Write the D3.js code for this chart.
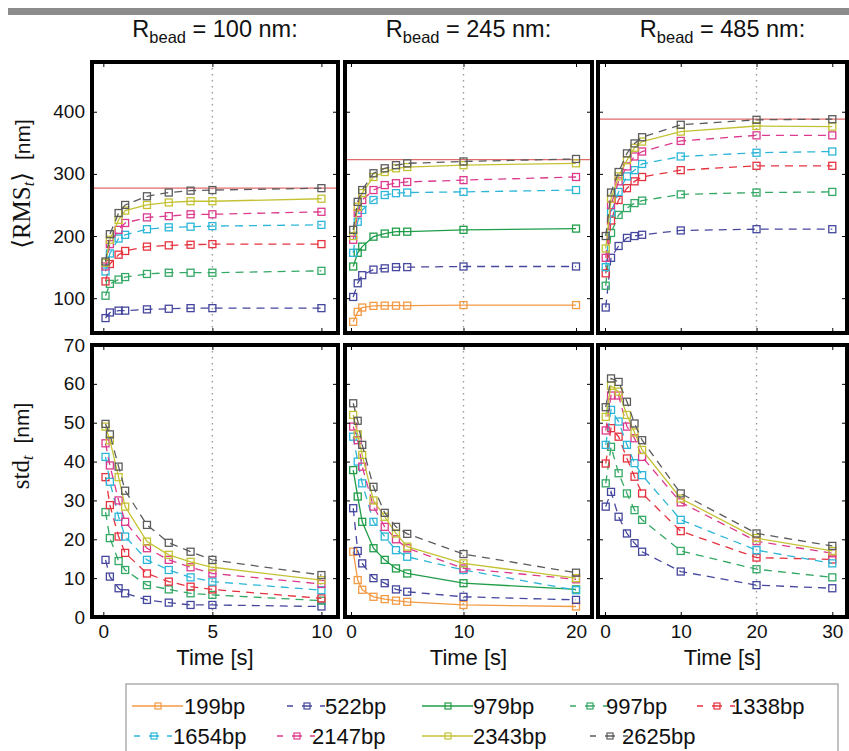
<!DOCTYPE html>
<html>
<head>
<meta charset="utf-8">
<script src="https://cdn.jsdelivr.net/npm/d3@7"></script>
<style>
  body { margin: 0; background: #fff; }
  svg { display: block; font-family: "Liberation Sans", Arial, Helvetica, sans-serif; }
</style>
</head>
<body>
<div id="chart"></div>
<script>
// ---- data ----
const labels = ["199bp", "522bp", "979bp", "997bp", "1338bp", "1654bp", "2147bp", "2343bp", "2625bp"];
const beadRadius = [100, 245, 485];

const times100 = [0.1, 0.3, 0.7, 1, 2, 3, 4, 5, 10];
const times245 = [0.2, 0.6, 1, 2, 3, 4, 5, 10, 20];
const times485 = [0.1, 0.8, 1.8, 2.9, 3.9, 4.9, 10, 20, 30];

// <RMS_t> [nm], one entry per label (null = not measured for that bead)
const rms100 = [
  null,
  [68, 77, 80, 80, 82, 83, 84, 84, 84],
  null,
  [104, 123, 130, 134, 139, 141, 141, 141, 144],
  [127, 155, 170, 176, 183, 185, 186, 187, 187],
  [143, 172, 196, 202, 211, 214, 215, 216, 218],
  [151, 187, 210, 221, 230, 232, 235, 235, 239],
  [157, 194, 226, 241, 250, 254, 256, 256, 260],
  [159, 203, 237, 250, 264, 270, 273, 274, 277]
];
const rms245 = [
  [62, 78, 85, 87.6, 88, 88, 88, 89, 89],
  [102, 124, 137, 146, 148, 150, 150, 151, 151],
  [151, 173, 183, 199, 204, 207, 207, 210, 212],
  null,
  null,
  [173, 223, 242, 258, 266, 269, 270, 271, 274],
  [194, 237, 258, 274, 282, 285, 287, 290, 295],
  [200, 247, 269, 295, 303, 309, 311, 314, 317],
  [210, 255, 274, 301, 309, 314, 317, 320, 324]
];
const rms485 = [
  null,
  [85, 165, 184, 197, 200, 202, 209, 211, 211],
  null,
  [120, 205, 234, 245, 253, 257, 267, 270, 271],
  [140, 225, 258, 277, 288, 295, 306, 313, 313],
  [150, 238, 271, 296, 306, 316, 328, 334, 336],
  [165, 250, 288, 312, 328, 336, 353, 362, 362],
  [180, 260, 296, 322, 342, 352, 368, 377, 376],
  [200, 270, 303, 333, 349, 359, 379, 387, 388]
];

// std_t [nm]
const std100 = [
  null,
  [14.7, 10.4, 7.4, 6.1, 4.4, 3.7, 3.1, 3.1, 2.7],
  null,
  [27, 20.3, 14.4, 12.1, 8.2, 7.1, 6.1, 5.7, 4.2],
  [36, 28.8, 20.7, 16.5, 11.2, 9.1, 7.8, 7.1, 4.8],
  [41.2, 34.8, 25.8, 20.7, 14.7, 12.1, 10.2, 9.1, 6.9],
  [44.7, 39, 30, 24.5, 17.7, 14.7, 12.8, 11.2, 8.5],
  [49, 45.5, 36, 28.4, 19.4, 16, 14.2, 12.8, 9.5],
  [49.7, 47, 38.7, 32.5, 23.7, 19.1, 16.8, 14.7, 10.8]
];
const std245 = [
  [16.8, 9.5, 7, 5.2, 4.6, 4.2, 3.9, 3.1, 2.7],
  [28, 17, 13.8, 10, 8.7, 7.1, 6.5, 5.2, 4.4],
  [37.8, 31, 24.5, 17.7, 14.7, 12.5, 11.2, 8.7, 7.1],
  null,
  null,
  [46.4, 40, 34.4, 24.5, 20.7, 17.2, 15.5, 12.1, 6.9],
  [49, 45.5, 38.7, 28.4, 23.2, 20, 17.7, 12.5, 9.7],
  [52, 47, 41.7, 30, 25.8, 21.5, 18.1, 13.8, 10],
  [55, 50.5, 44.3, 33.5, 26.8, 23.2, 21.4, 16.2, 11.4]
];
const std485 = [
  null,
  [28.4, 32.2, 25.8, 21.5, 19, 16.8, 11.7, 8.2, 7.4],
  null,
  [34.4, 43.8, 37, 31.8, 27.5, 25, 17, 12.3, 10.2],
  [39.5, 48.6, 46.4, 40.8, 36.1, 31.8, 22.1, 15.3, 14.8],
  [44.3, 53.3, 50.3, 44.3, 39.6, 36.5, 25, 17.2, 13.8],
  [48, 57, 57, 49, 46, 41.2, 29.5, 19.5, 16.4],
  [51.5, 59.5, 58, 52, 47.5, 43, 30.5, 20.3, 17],
  [54, 61.4, 60.5, 55.4, 49.8, 45.5, 31.8, 21.5, 18.3]
];

const plateauRms = [277, 323, 388];   // red reference level per bead
const guideTime = [5, 10, 20];        // dotted vertical marker
const timeTicks = [[0, 5, 10], [0, 10, 20], [0, 10, 20, 30]];
const timeDomain = [[-0.52, 10.76], [-0.53, 21.42], [-0.92, 31.94]];
const rmsTicks = [100, 200, 300, 400];
const stdTicks = [0, 10, 20, 30, 40, 50, 60, 70];

// ---- styles / layout ----
const colors = ["#f39a45", "#45469d", "#1f9d48", "#34a865", "#e5323f", "#2db6d8", "#dc3a8c", "#c4c234", "#5c5c5c"];
const dashed = [false, true, false, true, true, true, true, false, true];
const colX = [[92, 338], [345, 592], [598, 847]];
const rowY = [[62, 333], [345, 617]];
const W = 849, H = 751;
const tickFont = 19;

const svg = d3.select("#chart").append("svg")
  .attr("width", W).attr("height", H);

// grey strip at the top of the page
svg.append("rect").attr("x", 8).attr("y", 8).attr("width", W - 8).attr("height", 7).attr("fill", "#8c8c8c");

const yRms = d3.scaleLinear().domain([44, 480]).range([rowY[0][1], rowY[0][0]]);
const yStd = d3.scaleLinear().domain([0, 70]).range([rowY[1][1], rowY[1][0]]);

const panels = beadRadius.map((r, i) => ({
  bead: r,
  t: [times100, times245, times485][i],
  rows: [[rms100, rms245, rms485][i], [std100, std245, std485][i]],
  x: d3.scaleLinear().domain(timeDomain[i]).range(colX[i]),
  ticks: timeTicks[i],
  guide: guideTime[i],
  plateau: plateauRms[i]
}));

panels.forEach((p, i) => {
  [yRms, yStd].forEach((y, r) => {
    const g = svg.append("g");
    const [x0, x1] = colX[i];
    const [y0, y1] = rowY[r];

    g.append("line")
      .attr("x1", p.x(p.guide)).attr("x2", p.x(p.guide))
      .attr("y1", y0).attr("y2", y1)
      .attr("stroke", "#9a9a9a").attr("stroke-width", 1.4)
      .attr("stroke-dasharray", "1.5,4.5");

    if (r === 0) {
      g.append("line")
        .attr("x1", x0).attr("x2", x1)
        .attr("y1", y(p.plateau)).attr("y2", y(p.plateau))
        .attr("stroke", "#e06b6b").attr("stroke-width", 1.3);
    }

    const line = d3.line().x((d, k) => p.x(p.t[k])).y(d => y(d));
    p.rows[r].forEach((vals, s) => {
      if (!vals) return;
      g.append("path")
        .attr("d", line(vals))
        .attr("fill", "none")
        .attr("stroke", colors[s])
        .attr("stroke-width", 1.3)
        .attr("stroke-dasharray", dashed[s] ? "8,6" : null);
      g.selectAll(null).data(vals).enter().append("rect")
        .attr("x", (d, k) => p.x(p.t[k]) - 3.5)
        .attr("y", d => y(d) - 3.5)
        .attr("width", 7).attr("height", 7)
        .attr("fill", "none")
        .attr("stroke", colors[s])
        .attr("stroke-width", 1.3);
    });

    // inward ticks on all four sides, labels only on the outer panels
    const yt = r === 0 ? rmsTicks : stdTicks;
    const clean = a => a.call(s => s.select(".domain").remove())
      .call(s => s.selectAll("line").attr("stroke", "#000"))
      .call(s => s.selectAll("text").attr("font-size", tickFont).attr("fill", "#111"));
    g.append("g").attr("transform", `translate(0,${y1})`)
      .call(d3.axisBottom(p.x).tickValues(p.ticks).tickSize(-5).tickPadding(8)
        .tickFormat(r === 1 ? d3.format("d") : () => ""))
      .call(clean);
    g.append("g").attr("transform", `translate(0,${y0})`)
      .call(d3.axisTop(p.x).tickValues(p.ticks).tickSize(-5).tickFormat(() => ""))
      .call(clean);
    g.append("g").attr("transform", `translate(${x0},0)`)
      .call(d3.axisLeft(y).tickValues(yt).tickSize(-5).tickPadding(7)
        .tickFormat(i === 0 ? d3.format("d") : () => ""))
      .call(clean);
    g.append("g").attr("transform", `translate(${x1},0)`)
      .call(d3.axisRight(y).tickValues(yt).tickSize(-5).tickFormat(() => ""))
      .call(clean);

    g.append("rect")
      .attr("x", x0).attr("y", y0).attr("width", x1 - x0).attr("height", y1 - y0)
      .attr("fill", "none").attr("stroke", "#000").attr("stroke-width", 4);

    if (r === 1) {
      svg.append("text")
        .attr("x", (x0 + x1) / 2).attr("y", 665)
        .attr("text-anchor", "middle").attr("font-size", 22).attr("fill", "#111")
        .text("Time [s]");
    }
  });

  // title above each column
  const title = svg.append("text")
    .attr("x", (colX[i][0] + colX[i][1]) / 2).attr("y", 37)
    .attr("text-anchor", "middle").attr("font-size", 23.5).attr("fill", "#111");
  title.append("tspan").text("R");
  title.append("tspan").attr("font-size", 16.5).attr("dy", 6).text("bead");
  title.append("tspan").attr("dy", -6).text(` = ${p.bead} nm:`);
});

// y labels
const serif = "'Liberation Serif', 'DejaVu Serif', serif";
const ylab1 = svg.append("text").attr("transform", "translate(30,184) rotate(-90)")
  .attr("text-anchor", "middle").attr("font-size", 21).attr("fill", "#111");
ylab1.append("tspan").attr("font-family", serif).attr("font-size", 25).text("\u27e8RMS");
ylab1.append("tspan").attr("font-family", serif).attr("font-style", "italic")
  .attr("font-size", 16).attr("dy", 4).text("t");
ylab1.append("tspan").attr("font-family", serif).attr("font-size", 25).attr("dy", -4).text("\u27e9");
ylab1.append("tspan").attr("dx", 12).text("[nm]");

const ylab2 = svg.append("text").attr("transform", "translate(29,446) rotate(-90)")
  .attr("text-anchor", "middle").attr("font-size", 21).attr("fill", "#111");
ylab2.append("tspan").attr("font-family", serif).attr("font-size", 25).text("std");
ylab2.append("tspan").attr("font-family", serif).attr("font-style", "italic")
  .attr("font-size", 16).attr("dy", 4).text("t");
ylab2.append("tspan").attr("dx", 12).attr("dy", -4).text("[nm]");

// legend
const legendMarkX = [158, 307, 448, 590, 717, 154, 297, 448, 610];
const legendTextX = [184, 325, 473, 606, 731, 173, 312, 473, 622];
const legendRowY = [706, 736];
const leg = svg.append("g");
leg.append("rect").attr("x", 126).attr("y", 684).attr("width", 712).attr("height", 90)
  .attr("fill", "#fff").attr("stroke", "#9a9a9a").attr("stroke-width", 1.2);
labels.forEach((name, s) => {
  const cy = legendRowY[s < 5 ? 0 : 1];
  const m = legendMarkX[s];
  leg.append("line")
    .attr("x1", m - (dashed[s] ? 20 : 26)).attr("x2", m + (dashed[s] ? 18 : 25))
    .attr("y1", cy).attr("y2", cy)
    .attr("stroke", colors[s]).attr("stroke-width", 1.3)
    .attr("stroke-dasharray", dashed[s] ? "6,9,10,8,5" : null);
  leg.append("rect").attr("x", m - 3).attr("y", cy - 3).attr("width", 6).attr("height", 6)
    .attr("fill", "none").attr("stroke", colors[s]).attr("stroke-width", 1.2);
  leg.append("text").attr("x", legendTextX[s]).attr("y", cy).attr("dy", "0.35em")
    .attr("font-family", "'Liberation Sans Narrow', 'Arial Narrow', 'Liberation Sans', sans-serif")
    .attr("font-size", 22).attr("fill", "#111").text(name);
});
</script>
</body>
</html>
